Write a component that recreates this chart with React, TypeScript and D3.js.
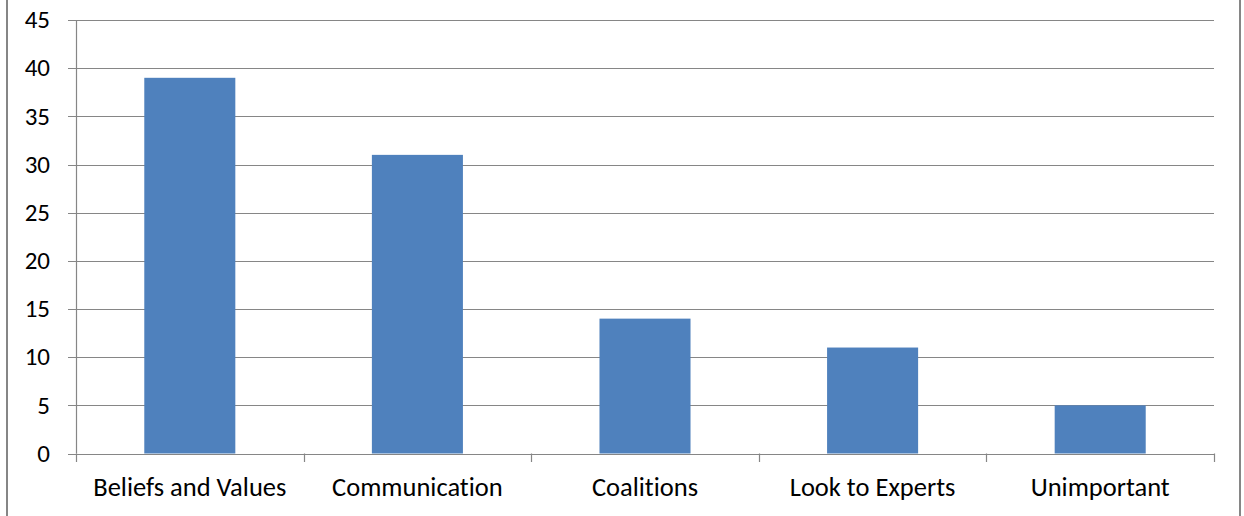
import React from "react";
import * as d3 from "d3";

const categories = ["Beliefs and Values", "Communication", "Coalitions", "Look to Experts", "Unimportant"];
const values = [39, 31, 14, 11, 5];
const yTicks = [0, 5, 10, 15, 20, 25, 30, 35, 40, 45];

const W = 1244;
const H = 516;
const left = 76;
const right = 1214;
const top = 20;
const bottom = 453.5;
const font = "Carlito, Calibri, 'Open Sans', 'Liberation Sans', sans-serif";
const grid = "#868686";
const textStyle = { fontVariantLigatures: "none" as const };

export default function App() {
  const x = d3.scaleBand<string>().domain(categories).range([left, right]).paddingInner(0).paddingOuter(0);
  const y = d3.scaleLinear().domain([0, 45]).range([bottom, top]);
  const bw = x.bandwidth();
  const barW = bw * 0.4;

  return (
    <svg width={W} height={H} style={{ position: "absolute", left: 0, top: 0, background: "#fff" }}>
      <rect x={0} y={0} width={W} height={H} fill="#fff" />
      {/* outer chart frame */}
      <rect x={7} y={-10} width={1233} height={H + 20} fill="none" stroke={grid} strokeWidth={2} />
      {/* horizontal gridlines and value ticks */}
      {yTicks.map((t) => (
        <g key={t}>
          <line x1={68} x2={right} y1={Math.round(y(t)) + 0.5} y2={Math.round(y(t)) + 0.5} stroke={grid} strokeWidth={1.2} />
          <text x={50} y={y(t)} dy="0.33em" textAnchor="end" fontFamily={font} fontSize={25} fill="#000" style={textStyle}>
            {t}
          </text>
        </g>
      ))}
      {/* value axis */}
      <line x1={left + 0.5} x2={left + 0.5} y1={top} y2={bottom} stroke={grid} strokeWidth={1.2} />
      {/* category boundary ticks */}
      {[...categories.map((c) => x(c)!), right].map((px, i) => (
        <line key={i} x1={Math.round(px) + 0.5} x2={Math.round(px) + 0.5} y1={bottom} y2={462} stroke={grid} strokeWidth={1.2} />
      ))}
      {/* bars */}
      {categories.map((c, i) => (
        <rect
          key={c}
          x={x(c)! + (bw - barW) / 2}
          y={y(values[i])}
          width={barW}
          height={y(0) - y(values[i])}
          fill="#4F81BD"
        />
      ))}
      {/* category labels */}
      {categories.map((c) => (
        <text key={c} x={x(c)! + bw / 2} y={496} textAnchor="middle" fontFamily={font} fontSize={26.5} fill="#000" style={textStyle}>
          {c}
        </text>
      ))}
    </svg>
  );
}
